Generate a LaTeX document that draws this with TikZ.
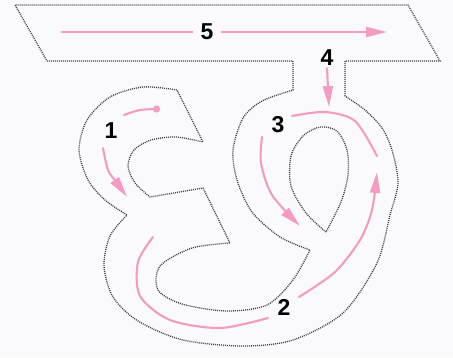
\documentclass[tikz,border=0pt]{standalone}
\usepackage{fontspec}
\setmainfont{Liberation Sans}
\usetikzlibrary{arrows.meta}
\definecolor{strokepink}{RGB}{243,155,193}
\definecolor{paper}{RGB}{250,250,252}

\begin{document}
\begin{tikzpicture}[
  x=1pt, y=-1pt,
  outline/.style={draw=black!75, line width=1.3pt, dash pattern=on 1pt off 1pt},
  stroke/.style={draw=strokepink, line width=2.1pt, line cap=round},
  arrow/.style={stroke, -{Triangle[length=21pt,width=10pt]}},
  num/.style={font=\fontsize{23}{23}\selectfont\bfseries, inner sep=2pt}
]
\fill[paper] (0,0) rectangle (453,357);

\draw[outline] (47,61) -- (293,61) -- (293,90)
  -- plot[smooth] coordinates {(293,90) (262,101) (243,118) (233,150) (237,180) (252,212) (280,237) (310,250)}
  -- plot[smooth] coordinates {(310,250) (293,280) (267,305) (227,311) (182,304) (158,290) (160,266) (192,248) (230,243)}
  -- (203,188) -- (150,197)
  -- plot[smooth] coordinates {(150,197) (135,183) (128,166) (134,150) (151,140) (176,137) (203,142)}
  -- (177,90)
  -- plot[smooth] coordinates {(177,90) (143,87) (110,97) (87,120) (79,150) (88,180) (105,200) (127,215)}
  -- plot[smooth] coordinates {(127,215) (110,236) (104,266) (113,297) (138,321) (183,340) (243,346) (293,340) (343,313) (377,263) (390,215) (398,183) (392,150) (382,128) (365,110) (345,96)}
  -- (345,61) -- (440,61) -- (408,5) -- (15,5) -- cycle;
\draw[outline] plot[smooth] coordinates {(326,232) (306,213) (291,186) (291,156) (303,136) (320,127) (337,131) (347,150) (348,175) (341,202) (326,232)} -- cycle;

\node[num] (n1) at (111,131) {1};
\node[num] (n2) at (284,307) {2};
\node[num] (n3) at (278,125) {3};
\node[num] (n4) at (327,58) {4};
\node[num, inner xsep=8pt] (n5) at (207,32) {5};
\coordinate (start5) at (62,32);
\coordinate (end5) at (387,32);
\coordinate (end4) at (329,107);

\draw[stroke] (start5) -- (n5.west);
\draw[arrow] (n5.east) -- (end5);
\draw[arrow] (n4.south) -- (end4);
\draw[stroke, -{Circle[length=7pt]}] plot[smooth] coordinates {(124,115) (140,110) (160,109)};
\draw[arrow] plot[smooth] coordinates {(103,148) (108,170) (117,183) (127,197)};
\draw[stroke] plot[smooth] coordinates {(153,237) (138,262) (140,296) (170,320) (220,328) (268,318)};
\draw[arrow] plot[smooth] coordinates {(299,297) (335,272) (360,240) (372,210) (377,172)};
\draw[stroke] plot[smooth] coordinates {(292,116) (325,112) (355,121) (377,156)};
\draw[arrow] plot[smooth] coordinates {(262,137) (261,163) (272,195) (300,226)};
\end{tikzpicture}
\end{document}
